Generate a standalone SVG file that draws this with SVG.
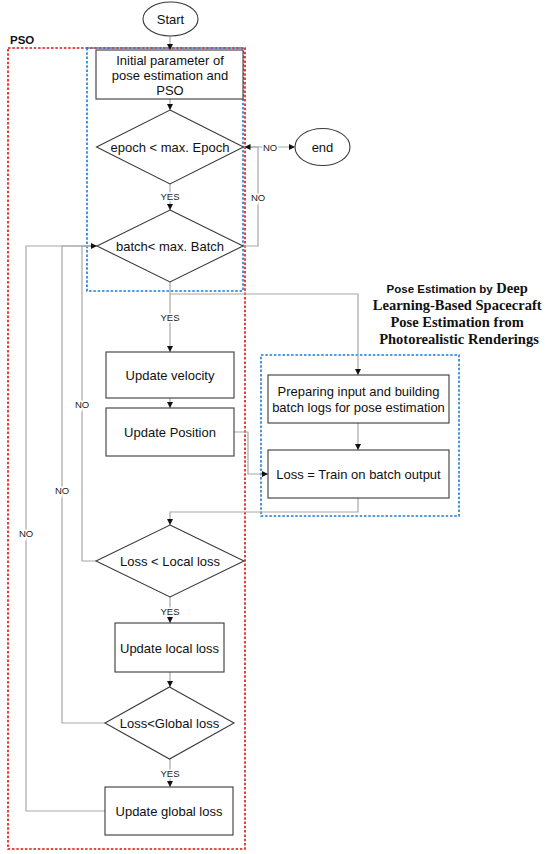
<svg xmlns="http://www.w3.org/2000/svg" width="550" height="854" viewBox="0 0 550 854">
<style>
.shape{fill:#fff;stroke:#3a3a3a;stroke-width:1.1}
.t{font-family:"Liberation Sans",Arial,sans-serif;font-size:13px;fill:#111;text-anchor:middle;dominant-baseline:central}
.conn{fill:none;stroke:#a8a8a8;stroke-width:1.2}
.lbl{font-family:"Liberation Sans",Arial,sans-serif;font-size:9.5px;fill:#222;text-anchor:middle;dominant-baseline:central;stroke:#fff;stroke-width:3;paint-order:stroke}
.red{fill:none;stroke:#e01010;stroke-width:1.6;stroke-dasharray:2.5,1.8}
.blue{fill:none;stroke:#1a7ad8;stroke-width:1.6;stroke-dasharray:2.5,1.8}
</style>
<defs>
<marker id="ah" markerUnits="userSpaceOnUse" markerWidth="6" markerHeight="6" refX="6" refY="3" orient="auto">
<path d="M0,0 L6,3 L0,6 z" fill="#111"/>
</marker>
</defs>
<rect width="550" height="854" fill="#fff"/>

<g id="groups">
<rect class="red" x="8" y="48" width="237" height="801"/>
<text x="10" y="44" style="font-family:'Liberation Sans',Arial,sans-serif;font-size:11.5px;font-weight:bold;fill:#111">PSO</text>
<rect class="blue" x="87" y="48" width="156" height="243"/>
<rect class="blue" x="261" y="355" width="198" height="161"/>
<text style="font-family:'Liberation Serif','Times New Roman',serif;font-size:14.5px;font-weight:bold;fill:#111" text-anchor="middle">
<tspan x="459" y="293"><tspan style="font-family:'Liberation Sans',Arial,sans-serif;font-size:11.5px">Pose Estimation by</tspan> Deep</tspan>
<tspan x="459" y="310">Learning-Based Spacecraft</tspan>
<tspan x="459" y="327">Pose Estimation from</tspan>
<tspan x="459" y="344">Photorealistic Renderings</tspan>
</text>
</g>

<g id="connectors">
<path class="conn" d="M170,36 V50" marker-end="url(#ah)"/>
<path class="conn" d="M170,99 V110" marker-end="url(#ah)"/>
<path class="conn" d="M243.5,147 H295" marker-end="url(#ah)"/>
<path class="conn" d="M243,246 H258 V147 H244.5" marker-end="url(#ah)"/>
<path class="conn" d="M170,184 V210" marker-end="url(#ah)"/>
<path class="conn" d="M170,282 V352" marker-end="url(#ah)"/>
<path class="conn" d="M170,294 H358 V375" marker-end="url(#ah)"/>
<path class="conn" d="M170,398 V408" marker-end="url(#ah)"/>
<path class="conn" d="M234,432 H248 V474 H268" marker-end="url(#ah)"/>
<path class="conn" d="M358,423 V450" marker-end="url(#ah)"/>
<path class="conn" d="M358,498 V512 H170 V525" marker-end="url(#ah)"/>
<path class="conn" d="M170,597 V623" marker-end="url(#ah)"/>
<path class="conn" d="M170,672 V687" marker-end="url(#ah)"/>
<path class="conn" d="M170,759 V787" marker-end="url(#ah)"/>
<path class="conn" d="M105,811 H26 V246 H97"/>
<path class="conn" d="M105,723 H62 V246 H97"/>
<path class="conn" d="M96,561 H82 V246 H97" marker-end="url(#ah)"/>
<text class="lbl" x="170" y="196">YES</text>
<text class="lbl" x="170" y="317">YES</text>
<text class="lbl" x="170" y="611">YES</text>
<text class="lbl" x="170" y="773">YES</text>
<text class="lbl" x="270" y="147">NO</text>
<text class="lbl" x="258" y="197">NO</text>
<text class="lbl" x="82" y="404">NO</text>
<text class="lbl" x="62" y="490">NO</text>
<text class="lbl" x="26" y="533">NO</text>
</g>

<g id="start">
<ellipse class="shape" cx="170.5" cy="19" rx="27.5" ry="17"/>
<text class="t" x="170.5" y="19">Start</text>
</g>
<g id="init">
<rect class="shape" x="96" y="50" width="147" height="49"/>
<text class="t" x="170" y="60">Initial parameter of</text>
<text class="t" x="170" y="75">pose estimation and</text>
<text class="t" x="170" y="90">PSO</text>
</g>
<g id="epoch">
<polygon class="shape" points="170,110 243.5,147 170,184 96.5,147"/>
<text class="t" x="170" y="147">epoch &lt; max. Epoch</text>
</g>
<g id="end">
<ellipse class="shape" cx="322.5" cy="147" rx="27.5" ry="18.5"/>
<text class="t" x="322.5" y="147">end</text>
</g>
<g id="batch">
<polygon class="shape" points="170,210 243,246 170,282 97,246"/>
<text class="t" x="170" y="246">batch&lt; max. Batch</text>
</g>
<g id="velocity">
<rect class="shape" x="106" y="352" width="128" height="46"/>
<text class="t" x="170" y="375">Update velocity</text>
</g>
<g id="position">
<rect class="shape" x="106" y="408" width="128" height="48"/>
<text class="t" x="170" y="432">Update Position</text>
</g>
<g id="prepare">
<rect class="shape" x="268" y="375" width="181" height="48"/>
<text class="t" x="358.5" y="391">Preparing input and building</text>
<text class="t" x="358.5" y="407">batch logs for pose estimation</text>
</g>
<g id="train">
<rect class="shape" x="268" y="450" width="181" height="48"/>
<text class="t" x="358.5" y="474">Loss = Train on batch output</text>
</g>
<g id="localcheck">
<polygon class="shape" points="170,525 244,561 170,597 96,561"/>
<text class="t" x="170" y="561">Loss &lt; Local loss</text>
</g>
<g id="localupdate">
<rect class="shape" x="115" y="623" width="109" height="49"/>
<text class="t" x="169.5" y="648">Update local loss</text>
</g>
<g id="globalcheck">
<polygon class="shape" points="169.5,687 234,723 169.5,759 105,723"/>
<text class="t" x="169.5" y="723">Loss&lt;Global loss</text>
</g>
<g id="globalupdate">
<rect class="shape" x="105" y="787" width="128" height="48"/>
<text class="t" x="169" y="811">Update global loss</text>
</g>
</svg>
